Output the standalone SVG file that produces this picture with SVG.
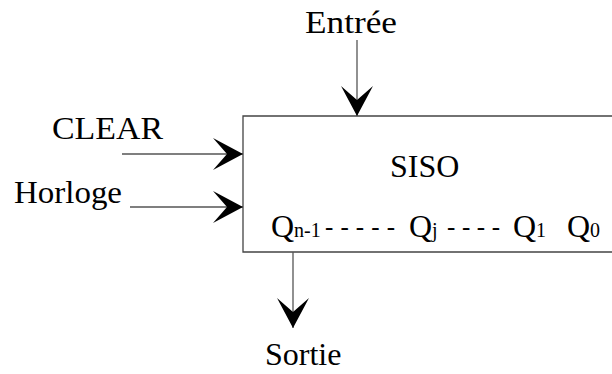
<svg xmlns="http://www.w3.org/2000/svg" width="612" height="374" viewBox="0 0 612 374">
<style>
text{font-family:"Liberation Serif","Times New Roman",serif;fill:#000;font-size:32px}
.sub{font-size:20px}
.dash{font-size:25px}
.ln{stroke:#555;stroke-width:1.3;fill:none}
.box{stroke:#444;stroke-width:1.3;fill:#fff}
</style>
<defs>
<marker id="ah" markerUnits="userSpaceOnUse" markerWidth="34" markerHeight="36" refX="30" refY="16" orient="auto">
<path d="M0,0 L30,16 L0,32 L14,16 Z" fill="#000"/>
</marker>
</defs>
<g id="block">
<path class="box" d="M620,116 H243 V252 H620"/>
<text x="390" y="177">SISO</text>
<text x="271" y="237">Q<tspan class="sub">n-1</tspan></text>
<text class="dash" x="325" y="235" textLength="70" lengthAdjust="spacing">- - - - -</text>
<text x="409" y="237">Q<tspan class="sub">j</tspan></text>
<text class="dash" x="447" y="235" textLength="53" lengthAdjust="spacing">- - - -</text>
<text x="513" y="237">Q<tspan class="sub">1</tspan></text>
<text x="567" y="237">Q<tspan class="sub">0</tspan></text>
</g>
<g id="entree"><text x="305" y="33" textLength="92" lengthAdjust="spacingAndGlyphs">Entrée</text></g>
<g id="clear"><text x="52" y="139" textLength="111" lengthAdjust="spacingAndGlyphs">CLEAR</text></g>
<g id="horloge"><text x="14" y="203" textLength="108" lengthAdjust="spacingAndGlyphs">Horloge</text></g>
<g id="sortie"><text x="265" y="365">Sortie</text></g>
<g id="connectors">
<line class="ln" x1="357" y1="40" x2="357" y2="116" marker-end="url(#ah)"/>
<line class="ln" x1="122" y1="154" x2="243" y2="154" marker-end="url(#ah)"/>
<line class="ln" x1="130" y1="207" x2="243" y2="207" marker-end="url(#ah)"/>
<line class="ln" x1="293" y1="252" x2="293" y2="328" marker-end="url(#ah)"/>
</g>
</svg>
